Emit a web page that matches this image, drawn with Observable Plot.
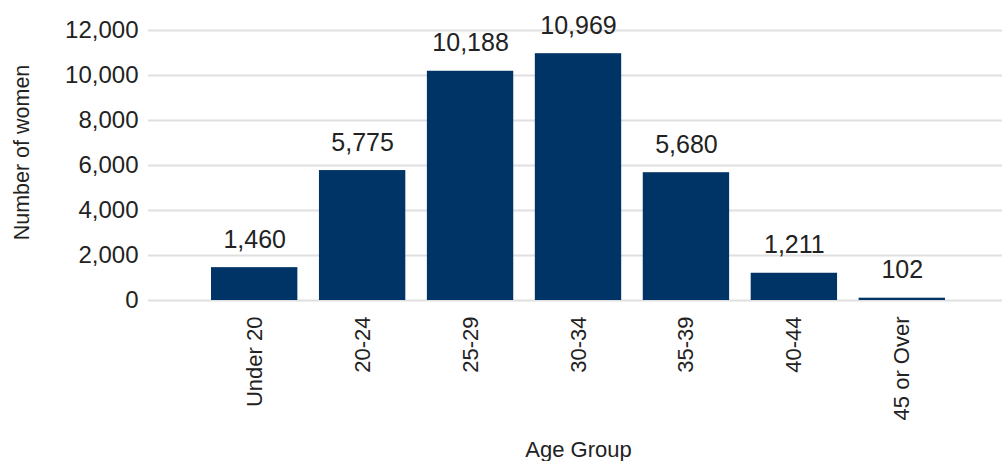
<!DOCTYPE html>
<html>
<head>
<meta charset="utf-8">
<script src="https://cdn.jsdelivr.net/npm/d3@7"></script>
<script src="https://cdn.jsdelivr.net/npm/@observablehq/plot@0.6"></script>
<style>
  html, body { margin: 0; padding: 0; background: #fff; overflow: hidden; }
  svg { display: block; }
</style>
</head>
<body>
<div id="chart"></div>
<script>
const ageGroups = ["Under 20", "20-24", "25-29", "30-34", "35-39", "40-44", "45 or Over"];
const women = [1460, 5775, 10188, 10969, 5680, 1211, 102];
const yTicks = [0, 2000, 4000, 6000, 8000, 10000, 12000];
const yLabel = "Number of women";
const xLabel = "Age Group";

const data = ageGroups.map((g, i) => ({group: g, value: women[i]}));
const fmt = d3.format(",");
const font = "'Liberation Sans', Arial, sans-serif";

const chart = Plot.plot({
  width: 1002,
  height: 461,
  marginTop: 30,
  marginBottom: 161,
  marginLeft: 148,
  marginRight: 0,
  style: {fontFamily: font, color: "#222", background: "#fff"},
  x: {domain: ageGroups, paddingInner: 0.2, paddingOuter: 0.556, align: 0.525, round: false, label: null},
  y: {domain: [0, 12000], label: null},
  marks: [
    Plot.ruleY(yTicks, {stroke: "#e0e0e0", strokeWidth: 2}),
    Plot.barY(data, {x: "group", y: "value", fill: "#003366"}),
    Plot.text(data, {x: "group", y: "value", text: d => fmt(d.value), lineAnchor: "bottom", dy: -20, fontSize: 25, fill: "#222"}),
    Plot.axisY({ticks: yTicks, tickSize: 0, tickPadding: 10, tickFormat: fmt, fontSize: 24, label: null, fill: "#222"}),
    Plot.axisX({tickSize: 0, tickRotate: -90, tickPadding: 16, fontSize: 22, label: null, fill: "#222"}),
    Plot.text([yLabel], {frameAnchor: "left", textAnchor: "middle", rotate: -90, dx: -126, dy: -13, fontSize: 21.5, fill: "#222"}),
    Plot.text([xLabel], {frameAnchor: "bottom", dy: 156, dx: 3, fontSize: 22, fill: "#222"})
  ]
});
document.getElementById("chart").appendChild(chart);
</script>
</body>
</html>
